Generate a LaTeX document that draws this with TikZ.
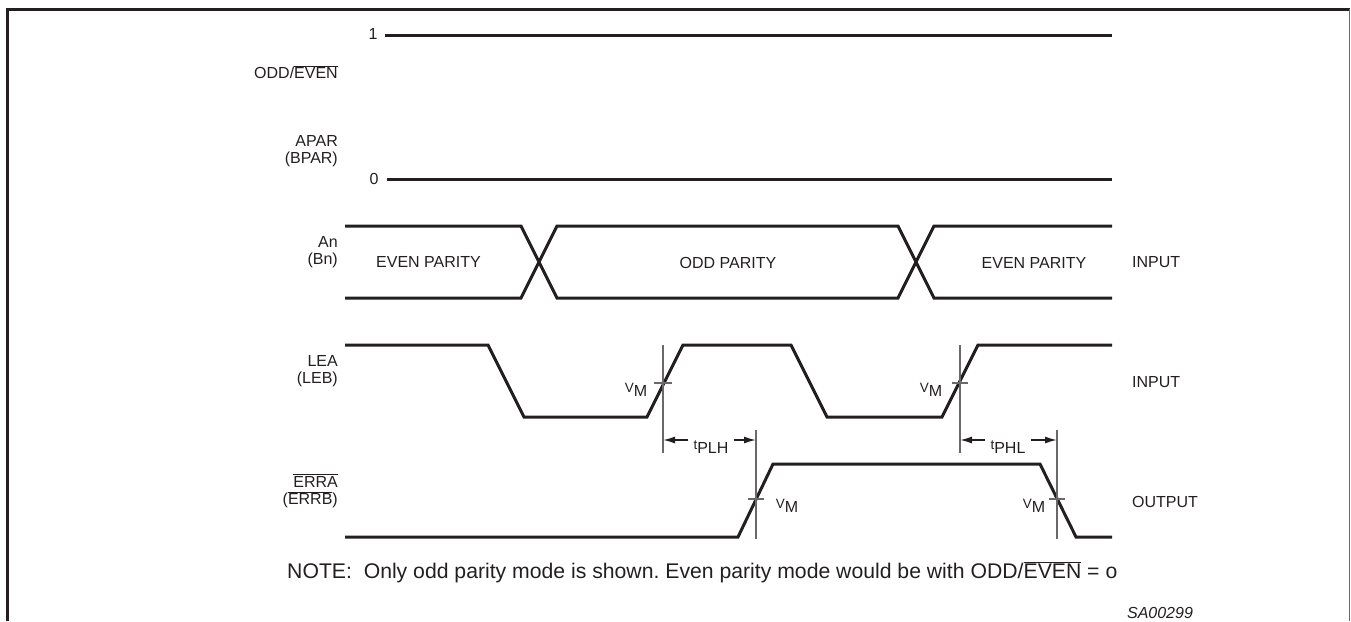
\documentclass[tikz,border=0pt]{standalone}
\usepackage{fontspec}
\setmainfont{Liberation Sans}
\usetikzlibrary{arrows.meta}
\definecolor{ink}{RGB}{35,31,32}
\definecolor{thinink}{RGB}{105,105,105}
\newcommand\ovl[1]{$\overline{\mbox{#1}}$}
\newcommand\subx[2]{{\fontsize{13.5}{13.5}\selectfont #1}\raisebox{-4pt}{#2}}
\frenchspacing
\begin{document}
\begin{tikzpicture}[x=1pt,y=-1pt,
  sig/.style={line width=3pt, draw=ink, line join=miter},
  meas/.style={line width=1.2pt, draw=thinink},
  frame/.style={line width=3pt, draw=ink},
  lbl/.style={font=\fontsize{16}{17.5}\selectfont, text=ink, inner sep=0pt, align=right},
  txt/.style={font=\fontsize{16}{17.5}\selectfont, text=ink, inner sep=0pt},
  note/.style={font=\fontsize{21.2}{23}\selectfont, text=ink, inner sep=0pt},
  dim/.style={line width=1.5pt, draw=ink, -{Latex[length=12pt,width=7pt]}}]
\useasboundingbox (0,0) rectangle (1351,621);
% frame
\draw[frame] (7,621) -- (7,9) -- (1350,9);
\draw[line width=1.2pt, draw=thinink] (1349.5,9) -- (1349.5,621);

% left labels
\node[lbl, anchor=east] (lodd) at (338,72) {ODD/\ovl{EVEN}};
\node[lbl, anchor=east] (lapar) at (338,151) {APAR\\(BPAR)};
\node[lbl, anchor=east] (lan) at (338,252) {An\\(Bn)};
\node[lbl, anchor=east] (llea) at (338,371) {LEA\\(LEB)};
\node[lbl, anchor=east] (lerr) at (338,491) {\ovl{ERRA}\\(\ovl{ERRB})};

% level labels
\node[txt] (one) at (373,34) {1};
\node[txt] (zero) at (374,179) {0};

% right labels
\node[txt, anchor=west] (in1) at (1132,262) {INPUT};
\node[txt, anchor=west] (in2) at (1132,382) {INPUT};
\node[txt, anchor=west] (out1) at (1132,502) {OUTPUT};

% level lines
\draw[sig] (385,35) -- (1112,35);
\draw[sig] (387,179) -- (1112,179);

% bus
\draw[sig] (345,226) -- (521,226) -- (557,298) -- (898,298) -- (934,226) -- (1112,226);
\draw[sig] (345,298) -- (521,298) -- (557,226) -- (898,226) -- (934,298) -- (1112,298);
\node[txt] (ev1) at (428.5,262) {EVEN PARITY};
\node[txt] (odd) at (728,263) {ODD PARITY};
\node[txt] (ev2) at (1034,263) {EVEN PARITY};

% LEA
\draw[sig] (345,345) -- (488,345) -- (524,417) -- (647,417) -- (683,345) -- (791,345) -- (827,417) -- (942,417) -- (978,345) -- (1112,345);
% ERRA
\draw[sig] (345,537) -- (738,537) -- (773,464) -- (1040,464) -- (1076,537) -- (1112,537);

% measurement lines
\coordinate (va) at (663,440);
\coordinate (vb) at (756,440);
\coordinate (vc) at (960,440);
\coordinate (vd) at (1057,440);
\draw[meas] (663,345) -- (663,453);
\draw[meas] (654,383) -- (672,383);
\draw[meas] (960,345) -- (960,453);
\draw[meas] (952,383) -- (968,383);
\draw[meas] (756,430) -- (756,539);
\draw[meas] (748,499) -- (764,499);
\draw[meas] (1057,430) -- (1057,539);
\draw[meas] (1049,499) -- (1065,499);

% VM labels
\node[txt] (vm1) at (636,390) {\subx{V}{M}};
\node[txt] (vm2) at (931,390) {\subx{V}{M}};
\node[txt] (vm3) at (787,506) {\subx{V}{M}};
\node[txt] (vm4) at (1034,506) {\subx{V}{M}};

% timing arrows
\node[txt, inner xsep=5pt] (tplh) at (711,447) {\subx{t}{PLH}};
\node[txt, inner xsep=5pt] (tphl) at (1008,447) {\subx{t}{PHL}};
\draw[dim] (tplh.west |- va) -- (va);
\draw[dim] (tplh.east |- vb) -- (vb);
\draw[dim] (tphl.west |- vc) -- (vc);
\draw[dim] (tphl.east |- vd) -- (vd);

% note
\node[note, anchor=base west] (nt) at (287,578) {NOTE:\ \ Only odd parity mode is shown. Even parity mode would be with ODD/\ovl{EVEN} = o};
\node[txt, anchor=base, font=\fontsize{16}{17.5}\selectfont\itshape] (sa) at (1160,618) {SA00299};
\end{tikzpicture}
\end{document}
